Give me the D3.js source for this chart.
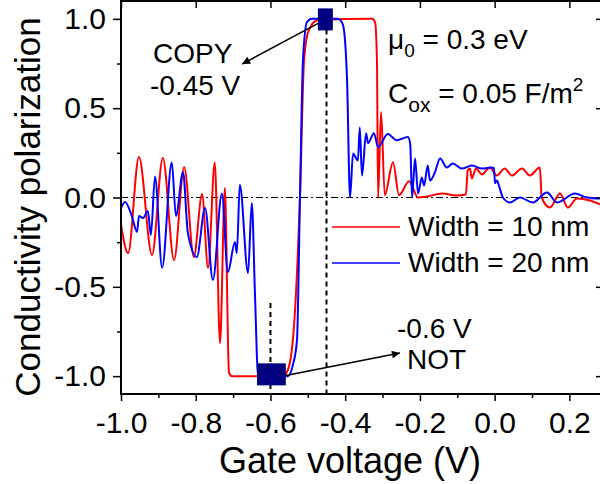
<!DOCTYPE html>
<html>
<head>
<meta charset="utf-8">
<script src="https://cdn.jsdelivr.net/npm/d3@7"></script>
<style>
  body { margin: 0; background: #fff; }
  text { font-family: "Liberation Sans", Arial, sans-serif; fill: #000; }
</style>
</head>
<body>
<svg id="chart" width="600" height="484"></svg>
<script>
var xTicks = [-1.0, -0.8, -0.6, -0.4, -0.2, 0.0, 0.2],
    xMinor = [-0.9, -0.7, -0.5, -0.3, -0.1, 0.1],
    yTicks = [-1.0, -0.5, 0.0, 0.5, 1.0],
    yMinor = [-0.75, -0.25, 0.25, 0.75];

// Width = 10 nm (red)
var width10 = [[-1.000,-0.154],[-0.981,-0.311],[-0.952,0.227],[-0.917,-0.322],[-0.888,0.221],
  [-0.858,-0.350],[-0.831,0.171],[-0.805,-0.333],[-0.783,0.020],[-0.767,-0.395],[-0.749,0.196],
  [-0.735,-0.816],[-0.722,0.053],[-0.711,-0.980],[-0.703,-1.0],[-0.569,-1.0],[-0.556,-0.977],
  [-0.540,-0.798],[-0.521,0.0],[-0.510,0.770],[-0.497,0.938],[-0.473,0.994],[-0.328,1.0],
  [-0.320,0.98],[-0.315,0.77],[-0.312,0.0],[-0.304,0.478],[-0.294,0.013],[-0.272,0.198],
  [-0.256,0.013],[-0.229,0.091],[-0.205,0.0],[-0.181,0.006],[-0.141,0.022],[-0.101,0.011],
  [-0.077,0.017],[-0.072,0.152],[-0.066,0.163],[-0.061,0.107],[-0.050,0.163],[-0.034,0.129],
  [-0.013,0.168],[0.006,0.123],[0.027,0.163],[0.046,0.123],[0.073,0.163],[0.094,0.123],
  [0.121,0.168],[0.126,0.0],[0.148,-0.056],[0.175,0.022],[0.196,-0.056],[0.220,-0.005],
  [0.255,-0.017],[0.282,-0.039]];

// Width = 20 nm (blue)
var width20 = [[-1.000,-0.059],[-0.989,-0.025],[-0.971,-0.104],[-0.957,-0.193],[-0.952,-0.104],
  [-0.941,-0.115],[-0.928,-0.076],[-0.920,-0.210],[-0.909,0.117],[-0.890,-0.393],[-0.864,0.196],
  [-0.853,-0.104],[-0.834,0.143],[-0.821,-0.199],[-0.797,-0.333],[-0.775,-0.059],[-0.754,-0.462],
  [-0.730,0.022],[-0.714,-0.417],[-0.695,-0.249],[-0.690,-0.311],[-0.682,0.072],[-0.660,-0.423],
  [-0.650,-0.031],[-0.641,-0.573],[-0.633,-1.0],[-0.553,-1.0],[-0.540,-0.938],[-0.529,-0.798],
  [-0.521,0.0],[-0.513,0.770],[-0.502,0.983],[-0.489,1.0],[-0.419,1.0],[-0.406,0.966],
  [-0.395,0.658],[-0.387,0.0],[-0.379,0.246],[-0.366,0.207],[-0.361,0.392],[-0.355,0.123],
  [-0.344,0.360],[-0.339,0.304],[-0.323,0.360],[-0.312,0.282],[-0.286,0.355],[-0.262,0.321],
  [-0.232,0.338],[-0.226,0.30],[-0.221,0.0],[-0.213,0.219],[-0.205,0.022],[-0.195,0.112],
  [-0.189,0.067],[-0.179,0.179],[-0.173,0.095],[-0.160,0.140],[-0.146,0.219],[-0.128,0.168],
  [-0.112,0.191],[-0.088,0.162],[-0.061,0.179],[-0.034,0.162],[-0.008,0.168],[-0.002,0.165],
  [0.001,0.08],[0.006,0.095],[0.014,0.050],[0.022,0.0],[0.041,-0.028],[0.068,0.0],
  [0.102,-0.028],[0.140,0.028],[0.167,-0.028],[0.215,0.022],[0.247,0.0],[0.282,-0.006]];

// marked operating points
var markers = [[-0.453, 0.997], [-0.616, -0.99], [-0.579, -0.99]];
// dashed guides: x, from y, to y
var guides = [[-0.45, 0.94, -1.1], [-0.6, -0.59, -1.1]];
// arrows: from [x,y] to [x,y]
var arrows = [[[-0.45, 1.0], [-0.676, 0.747]], [[-0.593, -1.011], [-0.2535, -0.871]]];

(function() {
  var svg = d3.select("#chart"),
      pl = 121, pr = 603, pt = 1, pb = 394;

  var x = d3.scaleLinear().domain([-1.0, 0.29]).range([pl, pr]),
      y = d3.scaleLinear().domain([-1.1, 1.1]).range([pb, pt]);

  var fmt = function(d) { return d.toFixed(1); };

  var defs = svg.append("defs");
  defs.append("clipPath").attr("id", "clip")
    .append("rect").attr("x", pl).attr("y", pt).attr("width", pr - pl).attr("height", pb - pt);
  defs.append("marker")
      .attr("id", "head").attr("viewBox", "0 0 10 10").attr("refX", 10).attr("refY", 5)
      .attr("markerWidth", 11).attr("markerHeight", 8).attr("markerUnits", "userSpaceOnUse")
      .attr("orient", "auto")
    .append("path").attr("d", "M0,0L10,5L0,10z").attr("fill", "#000");

  // zero line
  svg.append("line")
      .attr("x1", pl).attr("x2", pr).attr("y1", y(0)).attr("y2", y(0))
      .attr("stroke", "#000").attr("stroke-width", 1.2).attr("stroke-dasharray", "7,3,2,3");

  // dashed guides
  svg.selectAll(".guide").data(guides).enter().append("line")
      .attr("class", "guide")
      .attr("x1", function(d) { return x(d[0]); }).attr("x2", function(d) { return x(d[0]); })
      .attr("y1", function(d) { return y(d[1]); }).attr("y2", function(d) { return y(d[2]); })
      .attr("stroke", "#000").attr("stroke-width", 2).attr("stroke-dasharray", "5,4");

  var line = d3.line()
      .x(function(d) { return x(d[0]); })
      .y(function(d) { return y(d[1]); })
      .curve(d3.curveMonotoneX);

  var plot = svg.append("g").attr("clip-path", "url(#clip)");
  plot.append("path").datum(width10).attr("d", line)
      .attr("fill", "none").attr("stroke", "#ff0000").attr("stroke-width", 2);
  plot.append("path").datum(width20).attr("d", line)
      .attr("fill", "none").attr("stroke", "#0000ff").attr("stroke-width", 2);

  // arrows
  svg.selectAll(".arrow").data(arrows).enter().append("line")
      .attr("class", "arrow")
      .attr("x1", function(d) { return x(d[0][0]); }).attr("y1", function(d) { return y(d[0][1]); })
      .attr("x2", function(d) { return x(d[1][0]); }).attr("y2", function(d) { return y(d[1][1]); })
      .attr("stroke", "#000").attr("stroke-width", 1.5).attr("marker-end", "url(#head)");

  // markers
  svg.selectAll(".mark").data(markers).enter().append("rect")
      .attr("class", "mark")
      .attr("x", function(d) { return x(d[0]) - 7.5; })
      .attr("y", function(d) { return y(d[1]) - 11; })
      .attr("width", 15).attr("height", 22)
      .attr("fill", "#000080");

  // axes
  function styleAxis(g) {
    g.select(".domain").remove();
    g.selectAll(".tick line").attr("stroke", "#000").attr("stroke-width", 1.5);
    g.selectAll(".tick text").attr("font-size", 30).attr("font-family", "Liberation Sans, Arial, sans-serif");
  }
  var gx = svg.append("g").attr("transform", "translate(0," + pb + ")")
      .call(d3.axisBottom(x).tickValues(xTicks).tickSize(7).tickPadding(11).tickFormat(fmt));
  styleAxis(gx);
  var gxm = svg.append("g").attr("transform", "translate(0," + pb + ")")
      .call(d3.axisBottom(x).tickValues(xMinor).tickSize(4).tickFormat(""));
  styleAxis(gxm);
  var gt = svg.append("g").attr("transform", "translate(0," + pt + ")")
      .call(d3.axisBottom(x).tickValues(xTicks).tickSize(7).tickFormat(""));
  styleAxis(gt);

  var gy = svg.append("g").attr("transform", "translate(" + pl + ",0)")
      .call(d3.axisLeft(y).tickValues(yTicks).tickSize(8).tickPadding(7).tickFormat(fmt));
  styleAxis(gy);
  var gym = svg.append("g").attr("transform", "translate(" + pl + ",0)")
      .call(d3.axisLeft(y).tickValues(yMinor).tickSize(4).tickFormat(""));
  styleAxis(gym);
  var gr = svg.append("g").attr("transform", "translate(" + pr + ",0)")
      .call(d3.axisLeft(y).tickValues(yTicks).tickSize(7).tickFormat(""));
  styleAxis(gr);

  // frame
  svg.append("rect").attr("x", pl).attr("y", pt).attr("width", pr - pl).attr("height", pb - pt)
      .attr("fill", "none").attr("stroke", "#000").attr("stroke-width", 2);

  // axis titles
  svg.append("text").attr("x", 350).attr("y", 473).attr("text-anchor", "middle")
      .attr("font-size", 36).text("Gate voltage (V)");
  svg.append("text").attr("transform", "translate(40,207) rotate(-90)").attr("text-anchor", "middle")
      .attr("font-size", 35).text("Conductivity polarization");

  // annotations
  function label(tx, ty, str) {
    return svg.append("text").attr("x", tx).attr("y", ty).attr("font-size", 28).text(str);
  }
  label(153, 63, "COPY");
  label(150, 95, "-0.45 V");
  label(397, 338, "-0.6 V");
  label(407, 369, "NOT");

  var mu = svg.append("text").attr("x", 388).attr("y", 49).attr("font-size", 28);
  mu.append("tspan").text("\u03bc");
  mu.append("tspan").attr("dy", 8).attr("font-size", 19).text("0");
  mu.append("tspan").attr("dy", -8).text(" = 0.3 eV");

  var cox = svg.append("text").attr("x", 388).attr("y", 103).attr("font-size", 28);
  cox.append("tspan").text("C");
  cox.append("tspan").attr("dy", 9).attr("font-size", 21).text("ox");
  cox.append("tspan").attr("dy", -9).text(" = 0.05 F/m");
  cox.append("tspan").attr("dy", -12).attr("font-size", 19).text("2");

  // legend
  var legend = [["Width = 10 nm", "#ff0000", 227], ["Width = 20 nm", "#0000ff", 263]];
  legend.forEach(function(l) {
    svg.append("line").attr("x1", 332).attr("x2", 400).attr("y1", l[2]).attr("y2", l[2])
        .attr("stroke", l[1]).attr("stroke-width", 1.5);
    svg.append("text").attr("x", 408).attr("y", l[2] + 9).attr("font-size", 28).text(l[0]);
  });
})();
</script>
</body>
</html>
